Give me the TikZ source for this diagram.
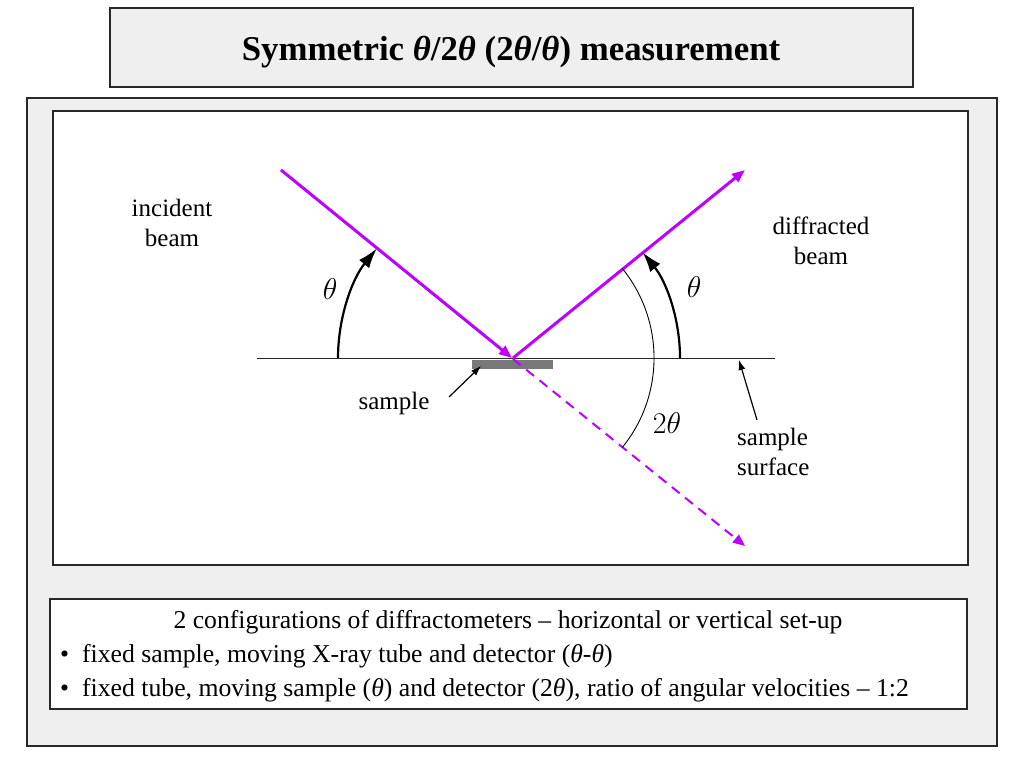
\RequirePackage{fix-cm}
\documentclass[tikz,border=0pt]{standalone}
\usepackage{fontspec}
\setmainfont{Liberation Serif}
\usetikzlibrary{arrows.meta}
\definecolor{beam}{RGB}{190,0,255}
\definecolor{panel}{RGB}{239,239,239}
\definecolor{frame}{RGB}{40,40,40}
\definecolor{samp}{RGB}{120,120,120}
\begin{document}
\begin{tikzpicture}[x=1pt,y=1pt,
  boxframe/.style={draw=frame,line width=2pt},
  beamline/.style={draw=beam,line width=3pt,-{Triangle[length=13pt,width=10pt]}},
  beamdash/.style={draw=beam,line width=2pt,dash pattern=on 10pt off 7pt,-{Triangle[length=12pt,width=10pt]}},
  anglearc/.style={draw=black,line width=2.2pt,-{Latex[length=20pt,width=13pt]}},
  thinarc/.style={draw=black,line width=0.9pt},
  pointer/.style={draw=black,line width=1.2pt,-{Latex[length=10pt,width=7pt]}},
  lbl/.style={font=\fontsize{25}{30}\selectfont,align=center,inner sep=0pt},
  ang/.style={font=\fontsize{30}{34}\selectfont,inner sep=0pt},
  btxt/.style={font=\fontsize{25.7}{30}\selectfont,inner sep=0pt}
]
\useasboundingbox (0,0) rectangle (1024,768);
\fill[white] (0,0) rectangle (1024,768);
% title
\draw[boxframe,fill=panel,line width=2.5pt] (110,760) rectangle (913,681);
\node[inner sep=0pt,font=\fontsize{34.8}{38}\selectfont\bfseries] (title) at (511,716) {Symmetric \textit{θ}/2\textit{θ} (2\textit{θ}/\textit{θ}) measurement};
% panels
\draw[boxframe,fill=panel] (27,670) rectangle (997,22);
\draw[boxframe,fill=white] (53,657) rectangle (968,203);
\draw[boxframe,fill=white] (50,169) rectangle (967,59);
% geometry
\coordinate (O) at (512,410);
\coordinate (O2) at (513,410);
\coordinate (O3) at (513,409);
\coordinate (inc) at (281,598);
\coordinate (dif) at (745,598);
\coordinate (tr) at (745,222);
\draw[line width=1pt,draw=frame] (257,409) coordinate (sl) -- (775,409) coordinate (sr);
\node[fill=samp,minimum width=81pt,minimum height=9pt,inner sep=0pt] (sample) at (512.5,403.5) {};
\draw[beamline] (inc) -- (O);
\draw[beamline] (O2) -- (dif);
\draw[beamdash] (O3) -- (tr);
% angles
\draw[anglearc] (338,410) arc[start angle=180,end angle=141,radius=174];
\draw[anglearc] (680,410) arc[start angle=0,end angle=39,radius=168];
\draw[thinarc] (622.4,499.4) arc[start angle=39,end angle=-39,radius=142];
\node[ang] (t1) at (330,479) {$\theta$};
\node[ang] (t2) at (694,481) {$\theta$};
\node[ang] (t3) at (667,345) {$2\theta$};
% labels
\node[lbl] (incl) at (172,545) {incident\\beam};
\node[lbl] (difl) at (821,527) {diffracted\\beam};
\node[lbl] (sampl) at (394,365) {sample};
\node[lbl,align=left,anchor=west] (surfl) at (737,316) {sample\\surface};
\coordinate (sa) at (449,371);
\coordinate (sb) at (481,402);
\draw[pointer] (sa) -- (sb);
\coordinate (ua) at (757,348);
\coordinate (ub) at (739,408);
\draw[pointer] (ua) -- (ub);
% bottom text
\node[btxt] (b1) at (508,146) {2 configurations of diffractometers – horizontal or vertical set-up};
\node[btxt,anchor=west] (b2) at (60,112) {•\hspace{13pt}fixed sample, moving X-ray tube and detector (\textit{θ}-\textit{θ})};
\node[btxt,anchor=west] (b3) at (60,78) {•\hspace{13pt}fixed tube, moving sample (\textit{θ}) and detector (2\textit{θ}), ratio of angular velocities – 1:2};
\end{tikzpicture}
\end{document}
